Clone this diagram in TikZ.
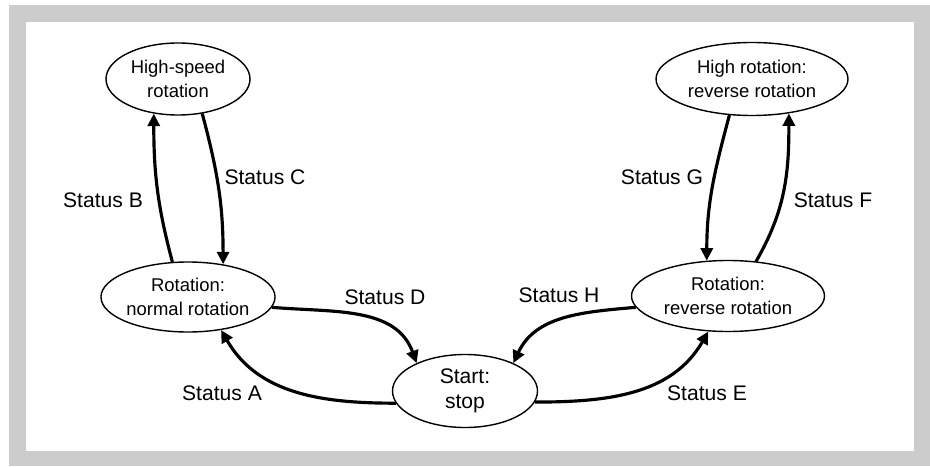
\documentclass[tikz,border=0pt]{standalone}
\usepackage{fontspec}
\setmainfont{Liberation Sans}
\usetikzlibrary{arrows.meta,shapes.geometric}
\definecolor{framegray}{HTML}{CCCCCC}

\begin{document}
\begin{tikzpicture}[
  state/.style={draw, ellipse, line width=0.8pt, inner sep=0pt, align=center,
    font=\fontsize{10.5}{14}\selectfont},
  status/.style={font=\fontsize{12}{14}\selectfont, inner sep=0pt},
  arrow/.style={-{Triangle[length=2.5mm, width=2.4mm]}, line width=1.8pt}
]
\useasboundingbox (0,0) rectangle (18.6,9.32);
\fill[framegray] (0.18,0) rectangle (18.6,9.22);
\fill[white] (0.52,0.30) rectangle (18.28,8.88);

\node[state, minimum width=2.88cm, minimum height=1.44cm] (highspeed) at (3.56,7.74) {High-speed\\rotation};
\node[state, minimum width=3.84cm, minimum height=1.46cm] (highrev) at (15.04,7.74) {High rotation:\\reverse rotation};
\node[state, minimum width=3.42cm, minimum height=1.40cm] (normal) at (3.76,3.38) {Rotation:\\normal rotation};
\node[state, minimum width=3.86cm, minimum height=1.42cm] (reverse) at (14.56,3.40) {Rotation:\\reverse rotation};
\node[state, minimum width=2.90cm, minimum height=1.46cm, font=\fontsize{12}{14.5}\selectfont] (start) at (9.30,1.50) {Start:\\stop};

\node[status] (lblA) at (4.44,1.46) {Status A};
\node[status] (lblB) at (2.06,5.32) {Status B};
\node[status] (lblC) at (5.30,5.78) {Status C};
\node[status] (lblD) at (7.70,3.38) {Status D};
\node[status] (lblE) at (14.14,1.46) {Status E};
\node[status] (lblF) at (16.66,5.32) {Status F};
\node[status] (lblG) at (13.24,5.78) {Status G};
\node[status] (lblH) at (11.18,3.42) {Status H};

\draw[arrow] (normal.114) to[out=105, in=-90] (highspeed.-125);
\draw[arrow] (highspeed.-55) to[out=-75, in=90] (normal.43);
\draw[arrow] (highrev.-122) to[out=-105, in=90] (reverse.121);
\draw[arrow] (reverse.51) to[out=60, in=-90] (highrev.-43);
\draw[arrow] (normal.-7) to[out=-5, in=110] (start.150);
\draw[arrow] (start.-170) to[out=180, in=-60] (normal.-45);
\draw[arrow] (reverse.187) to[out=185, in=65] (start.30);
\draw[arrow] (start.-9) to[out=0, in=-120] (reverse.-119);
\end{tikzpicture}
\end{document}
